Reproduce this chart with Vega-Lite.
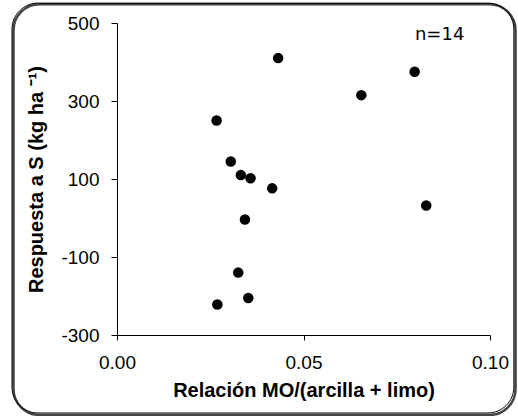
{
  "$schema": "https://vega.github.io/schema/vega-lite/v6.json",
  "width": 373,
  "height": 312,
  "autosize": "none",
  "padding": {"left": 117, "top": 23, "right": 28, "bottom": 81},
  "background": "white",
  "config": {
    "locale": {"number": {"decimal": ".", "thousands": ",", "grouping": [3], "currency": ["$", ""], "minus": "-"}},
    "view": {"stroke": null},
    "axis": {
      "labelFont": "Liberation Sans",
      "labelFontSize": 19,
      "labelColor": "black",
      "tickColor": "black",
      "domainColor": "black",
      "grid": false,
      "labelOverlap": false,
      "labelFlush": false,
      "labelBound": false,
      "titleFont": "Liberation Sans",
      "titleFontSize": 20,
      "titleFontWeight": "bold",
      "titleColor": "black"
    }
  },
  "data": {
    "values": [
      {"ratio": 0.0432, "resp": 410},
      {"ratio": 0.0798, "resp": 375},
      {"ratio": 0.0655, "resp": 315},
      {"ratio": 0.0267, "resp": 250},
      {"ratio": 0.0305, "resp": 145},
      {"ratio": 0.0332, "resp": 110},
      {"ratio": 0.0358, "resp": 102},
      {"ratio": 0.0416, "resp": 76},
      {"ratio": 0.0829, "resp": 32},
      {"ratio": 0.0343, "resp": -4},
      {"ratio": 0.0325, "resp": -140},
      {"ratio": 0.0352, "resp": -205},
      {"ratio": 0.0269, "resp": -222}
    ]
  },
  "layer": [
    {
      "mark": {"type": "point", "filled": true, "color": "black", "opacity": 1, "size": 110},
      "encoding": {
        "x": {"field": "ratio", "type": "quantitative",
          "scale": {"domain": [0, 0.1], "nice": false, "zero": false, "padding": 0},
          "axis": {
            "values": [0, 0.05, 0.1],
            "format": ".2f",
            "tickSize": 5,
            "labelPadding": 13,
            "labelFlush": false,
            "labelOverlap": false,
            "title": "Relación MO/(arcilla + limo)",
            "titlePadding": 8
          }},
        "y": {"field": "resp", "type": "quantitative",
          "scale": {"domain": [-300, 500], "nice": false, "zero": false, "padding": 0},
          "axis": {
            "values": [-300, -200, -100, 0, 100, 200, 300, 400, 500],
            "format": "d",
            "labelOverlap": false,
            "tickSize": 6,
            "labelPadding": 12,
            "title": "Respuesta a S (kg ha ⁻¹)",
            "titlePadding": 14
          }}
      }
    },
    {
      "data": {"values": [{}]},
      "mark": {"type": "rect", "fill": null, "stroke": "#444444", "strokeWidth": 2.5, "cornerRadius": 26, "clip": false},
      "encoding": {
        "x": {"datum": -0.02775, "type": "quantitative"},
        "x2": {"datum": 0.10685},
        "y": {"datum": 548, "type": "quantitative"},
        "y2": {"datum": -505}
      }
    },
    {
      "data": {"values": [{}]},
      "mark": {"type": "rect", "fill": null, "stroke": "black", "strokeWidth": 1, "cornerRadius": 26, "clip": false},
      "encoding": {
        "x": {"datum": -0.02815, "type": "quantitative"},
        "x2": {"datum": 0.1064},
        "y": {"datum": 551, "type": "quantitative"},
        "y2": {"datum": -500}
      }
    },
    {
      "data": {"values": [{}]},
      "mark": {"type": "text", "text": "n=14", "font": "DejaVu Sans", "fontSize": 18, "color": "black", "align": "center", "baseline": "middle", "clip": false},
      "encoding": {
        "x": {"datum": 0.0865, "type": "quantitative"},
        "y": {"datum": 468, "type": "quantitative"}
      }
    }
  ]
}
